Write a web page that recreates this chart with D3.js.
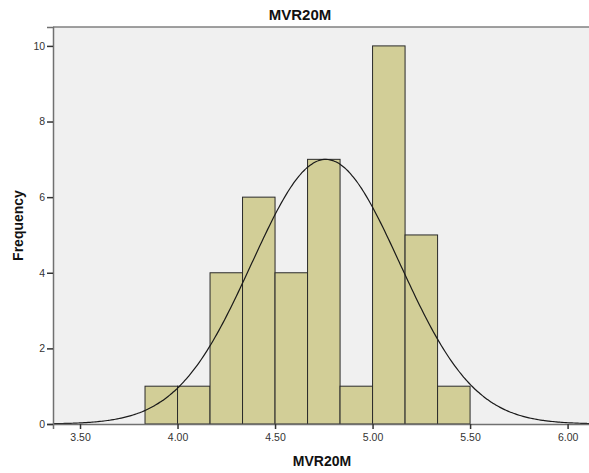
<!DOCTYPE html>
<html>
<head>
<meta charset="utf-8">
<script src="https://cdn.jsdelivr.net/npm/d3@7"></script>
<style>
  body { margin: 0; background: #fff; }
  svg { display: block; font-family: Arial, "Liberation Sans", sans-serif; }
</style>
</head>
<body>
<div id="chart"></div>
<script>
// histogram bins (lower edge, upper edge) and counts
const binStarts = [3.8333, 4.0, 4.1667, 4.3333, 4.5, 4.6667, 4.8333, 5.0, 5.1667, 5.3333];
const binWidth = 1 / 6;
const counts = [1, 1, 4, 6, 4, 7, 1, 10, 5, 1];
const xTicks = [3.5, 4.0, 4.5, 5.0, 5.5, 6.0];
const yTicks = [0, 2, 4, 6, 8, 10];
// fitted normal curve parameters
const mean = 4.76;
const stdDev = 0.38;
const N = 40;

const width = 589, height = 473;
const plot = {left: 53, right: 591, top: 27, bottom: 424};

const x = d3.scaleLinear().domain([3.3615, 6.12]).range([plot.left, plot.right]);
const y = d3.scaleLinear().domain([0, 10.5]).range([plot.bottom, plot.top]);

const svg = d3.select("#chart").append("svg")
  .attr("width", width)
  .attr("height", height);

svg.append("rect")
  .attr("x", plot.left).attr("y", plot.top)
  .attr("width", plot.right - plot.left).attr("height", plot.bottom - plot.top)
  .attr("fill", "#f0f0f0");

// top border
svg.append("line")
  .attr("x1", plot.left).attr("x2", plot.right)
  .attr("y1", plot.top).attr("y2", plot.top)
  .attr("stroke", "#808080").attr("stroke-width", 1.5);

// bars
svg.selectAll("rect.bar")
  .data(counts)
  .enter()
  .append("rect")
  .attr("class", "bar")
  .attr("x", (d, i) => x(binStarts[i]))
  .attr("width", (d, i) => x(binStarts[i] + binWidth) - x(binStarts[i]))
  .attr("y", d => y(d))
  .attr("height", d => y(0) - y(d))
  .attr("fill", "#d2ce97")
  .attr("stroke", "#2a2a2a")
  .attr("stroke-width", 1);

// normal curve
const pdf = v => N * binWidth / (stdDev * Math.sqrt(2 * Math.PI)) * Math.exp(-0.5 * ((v - mean) / stdDev) ** 2);
const curvePts = d3.range(x.domain()[0], x.domain()[1], 0.01).map(v => [v, pdf(v)]);
svg.append("path")
  .datum(curvePts)
  .attr("fill", "none")
  .attr("stroke", "#1a1a1a")
  .attr("stroke-width", 1.2)
  .attr("d", d3.line().x(d => x(d[0])).y(d => y(d[1])).curve(d3.curveBasis));

// axes
const xAxis = svg.append("g")
  .attr("transform", `translate(0,${plot.bottom})`)
  .call(d3.axisBottom(x).tickValues(xTicks).tickFormat(d3.format(".2f")).tickSizeOuter(0).tickSize(5));
const yAxis = svg.append("g")
  .attr("transform", `translate(${plot.left},0)`)
  .call(d3.axisLeft(y).tickValues(yTicks).tickSizeOuter(0).tickSize(6));

[xAxis, yAxis].forEach(g => {
  g.select(".domain").attr("stroke", "#707070").attr("stroke-width", 1.5);
  g.selectAll(".tick line").attr("stroke", "#333").attr("stroke-width", 1.5);
  g.selectAll(".tick text").attr("fill", "#333").attr("font-size", 10.5)
    .attr("font-family", "Arial, 'Liberation Sans', sans-serif");
});
xAxis.selectAll(".tick text").attr("dy", "0.9em");
yAxis.selectAll(".tick text").attr("dx", "0.1em");

// titles
svg.append("text")
  .attr("x", 300).attr("y", 20)
  .attr("text-anchor", "middle")
  .attr("font-weight", "bold").attr("font-size", 15)
  .attr("fill", "#111")
  .text("MVR20M");

svg.append("text")
  .attr("x", 322).attr("y", 466)
  .attr("text-anchor", "middle")
  .attr("font-weight", "bold").attr("font-size", 14)
  .attr("fill", "#111")
  .text("MVR20M");

svg.append("text")
  .attr("transform", `translate(23,${(plot.top + plot.bottom) / 2}) rotate(-90)`)
  .attr("text-anchor", "middle")
  .attr("font-weight", "bold").attr("font-size", 14)
  .attr("fill", "#111")
  .text("Frequency");
</script>
</body>
</html>
